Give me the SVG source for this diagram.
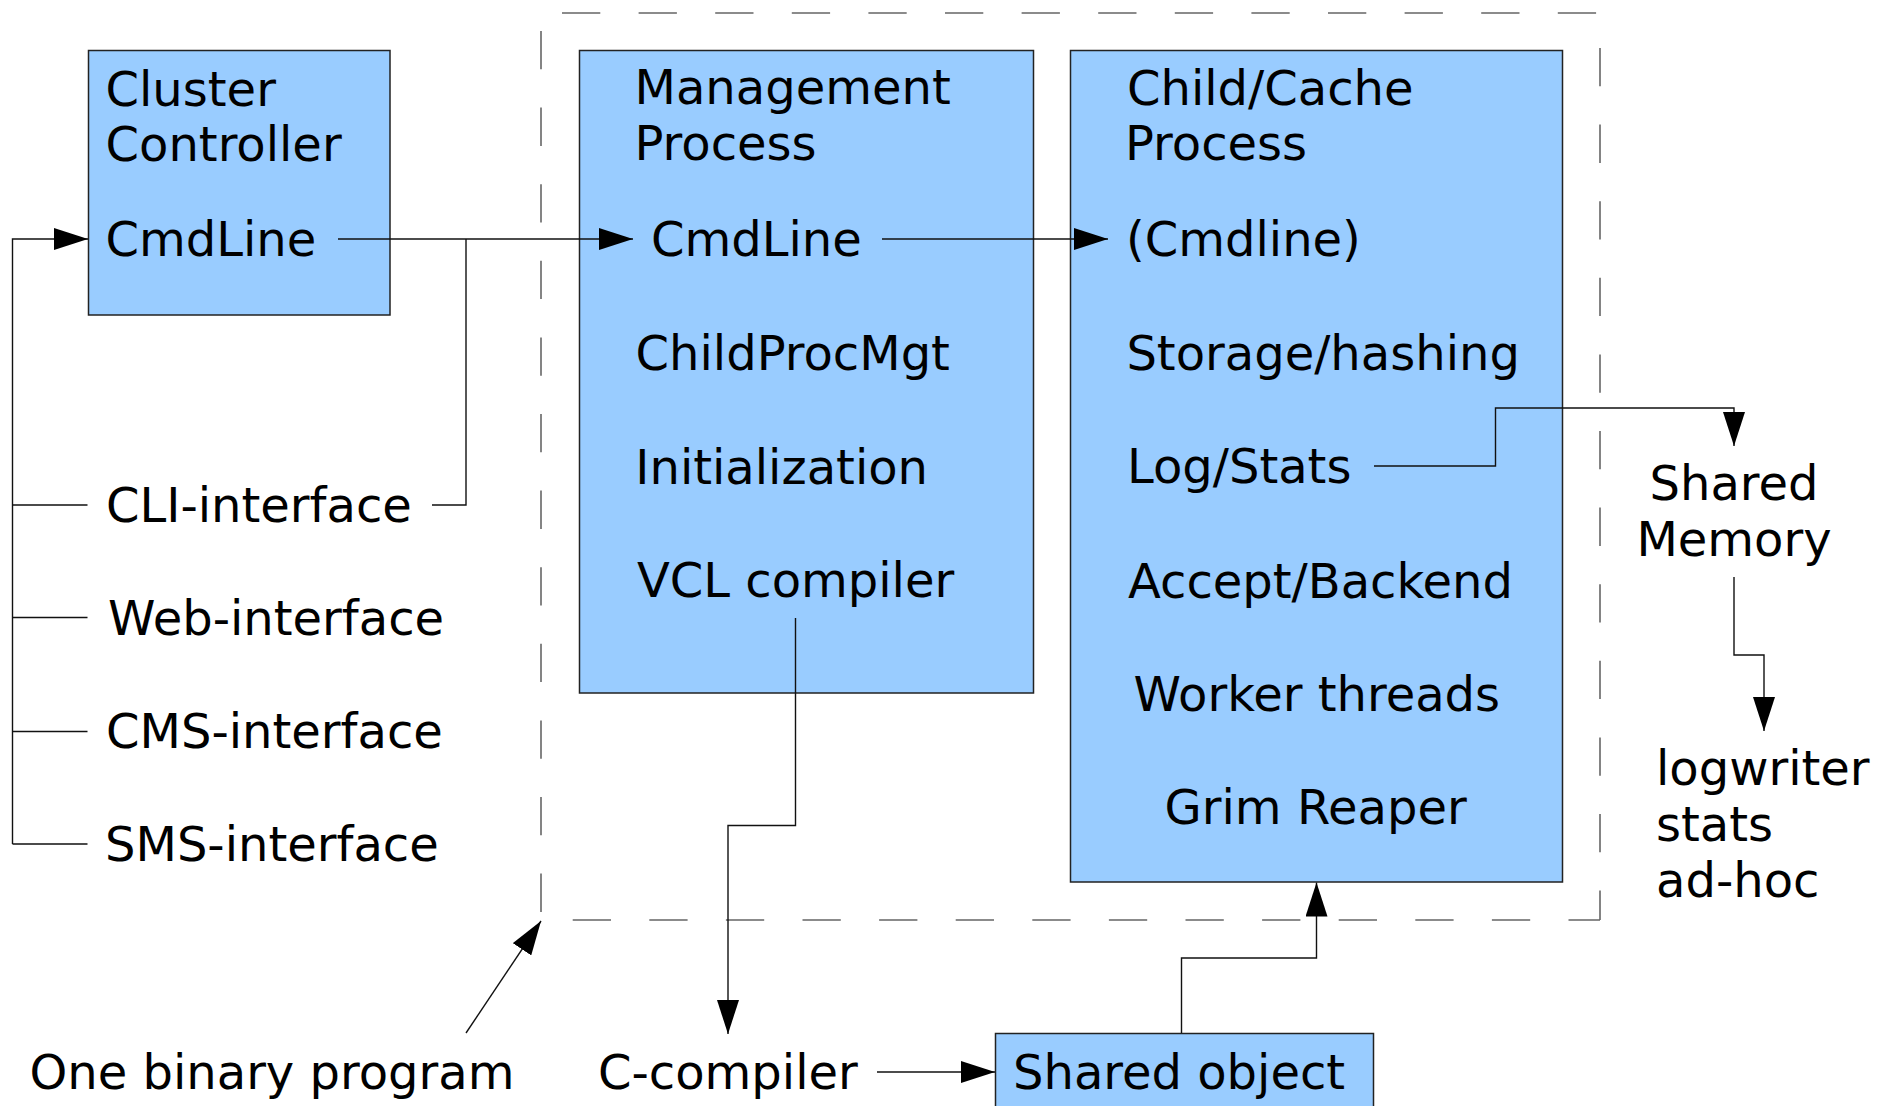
<svg xmlns="http://www.w3.org/2000/svg" width="1892" height="1106" viewBox="0 0 1892 1106">
  <style>
    .box { fill: #99ccff; stroke: #222; stroke-width: 1.5; }
    .t { font-family: "DejaVu Sans", "Liberation Sans", sans-serif; font-size: 48px; fill: #000; }
    .mid { text-anchor: middle; }
    .wire { fill: none; stroke: #111; stroke-width: 1.4; }
    .arrow { fill: none; stroke: #111; stroke-width: 1.4; marker-end: url(#head); }
    .frame { fill: none; stroke: #666; stroke-width: 1.6; stroke-dasharray: 38.3 38.3; }
  </style>
  <defs>
    <marker id="head" markerUnits="userSpaceOnUse" markerWidth="34" markerHeight="22" refX="34" refY="11" orient="auto">
      <path d="M0,0 L34,11 L0,22 z" fill="#000"/>
    </marker>
  </defs>
  <rect width="1892" height="1106" fill="#fff"/>

  <!-- dashed boundary of the single binary -->
  <g id="binary-boundary">
    <line class="frame" x1="541" y1="13" x2="1600" y2="13" stroke-dashoffset="55.6"/>
    <line class="frame" x1="541" y1="13" x2="541" y2="920" stroke-dashoffset="58.6"/>
    <line class="frame" x1="1600" y1="13" x2="1600" y2="920" stroke-dashoffset="41.6"/>
    <line class="frame" x1="541" y1="920" x2="1600" y2="920" stroke-dashoffset="44.9"/>
  </g>

  <g id="cluster-controller">
    <rect class="box" x="88.5" y="50.5" width="301.5" height="264.5"/>
    <text class="t" x="105.5" y="105.5">Cluster</text>
    <text class="t" x="105.5" y="161">Controller</text>
    <text class="t" x="105.5" y="256">CmdLine</text>
  </g>

  <g id="management-process">
    <rect class="box" x="579.5" y="50.5" width="454" height="642.5"/>
    <text class="t" x="634.5" y="104">Management</text>
    <text class="t" x="634.5" y="160">Process</text>
    <text class="t" x="651" y="256">CmdLine</text>
    <text class="t" x="635.6" y="369.5">ChildProcMgt</text>
    <text class="t" x="635.3" y="484">Initialization</text>
    <text class="t" x="636.9" y="597.3">VCL compiler</text>
  </g>

  <g id="child-process">
    <rect class="box" x="1070.5" y="50.5" width="492" height="831.5"/>
    <text class="t" x="1127" y="105">Child/Cache</text>
    <text class="t" x="1125" y="160">Process</text>
    <text class="t" x="1126" y="256">(Cmdline)</text>
    <text class="t" x="1126.4" y="370">Storage/hashing</text>
    <text class="t" x="1127" y="483">Log/Stats</text>
    <text class="t" x="1128" y="597.5">Accept/Backend</text>
    <text class="t" x="1133.4" y="710.5">Worker threads</text>
    <text class="t" x="1164.6" y="823.5">Grim Reaper</text>
  </g>

  <g id="interfaces">
    <text class="t" x="106" y="522">CLI-interface</text>
    <text class="t" x="108" y="635">Web-interface</text>
    <text class="t" x="106" y="748">CMS-interface</text>
    <text class="t" x="105" y="861">SMS-interface</text>
  </g>

  <g id="shared-memory">
    <text class="t mid" x="1734" y="500">Shared</text>
    <text class="t mid" x="1734" y="556">Memory</text>
  </g>

  <g id="log-consumers">
    <text class="t" x="1656" y="785">logwriter</text>
    <text class="t" x="1656" y="841">stats</text>
    <text class="t" x="1656" y="897">ad-hoc</text>
  </g>

  <g id="one-binary-label">
    <text class="t" x="29.5" y="1088.5">One binary program</text>
  </g>

  <g id="c-compiler">
    <text class="t" x="598" y="1088.5">C-compiler</text>
  </g>

  <g id="shared-object">
    <rect class="box" x="995.5" y="1033.5" width="378" height="90"/>
    <text class="t" x="1013" y="1088.5">Shared object</text>
  </g>

  <g id="connectors">
    <!-- interface bus feeding the cluster controller -->
    <path class="arrow" d="M12.5,844 V239 H88"/>
    <path class="wire" d="M12.5,505 H87.5 M12.5,617.5 H87.5 M12.5,731.5 H87.5 M12.5,844 H87.5"/>
    <!-- command line into the management process -->
    <path class="arrow" d="M338,239 H633"/>
    <path class="wire" d="M432,505 H466 V239"/>
    <!-- management to child -->
    <path class="arrow" d="M882,239 H1108"/>
    <!-- log/stats to shared memory -->
    <path class="arrow" d="M1374,466 H1495.5 V408 H1734 V446"/>
    <!-- shared memory to readers -->
    <path class="arrow" d="M1734,577 V655 H1764 V731"/>
    <!-- VCL compiler to C compiler -->
    <path class="arrow" d="M795.5,618 V825.5 H728 V1034"/>
    <!-- C compiler to shared object -->
    <path class="arrow" d="M877,1072 H995"/>
    <!-- shared object loaded into child -->
    <path class="arrow" d="M1181.5,1033 V958 H1316.5 V882.5"/>
    <!-- label pointer to the dashed boundary -->
    <path class="arrow" d="M466,1033 L541,921"/>
  </g>
</svg>
